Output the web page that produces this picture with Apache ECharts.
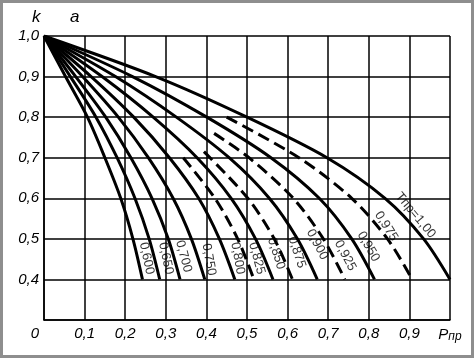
<!DOCTYPE html>
<html><head><meta charset="utf-8">
<script src="https://cdn.jsdelivr.net/npm/echarts@6/dist/echarts.min.js"></script>
<style>
html,body{margin:0;padding:0;background:#fff;}
#c{width:474px;height:358px;position:absolute;left:0;top:0;}
#frame{position:absolute;left:0;top:0;width:474px;height:358px;box-sizing:border-box;border:3px solid #8e8e8e;pointer-events:none;}
</style></head>
<body>
<div id="c"></div><div id="frame"></div>
<script>
// k levels where each solid curve is sampled
const kLevels = [1.0, 0.9, 0.8, 0.7, 0.6, 0.5, 0.4];
// P values (Pпр) of each solid curve at those k levels
const p600 = [0, 0.053, 0.107, 0.150, 0.189, 0.219, 0.2425];
const p650 = [0, 0.065, 0.128, 0.180, 0.224, 0.259, 0.285];
const p700 = [0, 0.078, 0.152, 0.214, 0.266, 0.306, 0.335];
const p750 = [0, 0.095, 0.183, 0.257, 0.318, 0.363, 0.396];
const p800 = [0, 0.116, 0.221, 0.309, 0.381, 0.432, 0.470];
const p850 = [0, 0.143, 0.269, 0.377, 0.461, 0.521, 0.564];
const p900 = [0, 0.176, 0.326, 0.456, 0.555, 0.624, 0.673];
const p950 = [0, 0.218, 0.401, 0.559, 0.678, 0.758, 0.814];
const p1000 = [0, 0.275, 0.500, 0.697, 0.840, 0.935, 1.000];
// dashed curves (start lower)
const k825 = [0.70, 0.6, 0.5, 0.4];
const p825 = [0.343, 0.421, 0.477, 0.517];
const k875 = [0.715, 0.6, 0.5, 0.4];
const p875 = [0.394, 0.502, 0.567, 0.612];
const k925 = [0.76, 0.7, 0.6, 0.5, 0.4];
const p925 = [0.419, 0.505, 0.614, 0.688, 0.741];
const k975 = [0.80, 0.7, 0.6, 0.5, 0.4];
const p975 = [0.450, 0.628, 0.758, 0.846, 0.907];
// curve labels
const labelText = ['0,600','0,650','0,700','0,750','0,800','0,825','0,850','0,875','0,900','0,925','0,950','0,975','Tпр=1,00'];
const labelP = [0.253,0.300,0.344,0.406,0.477,0.524,0.572,0.623,0.673,0.742,0.799,0.843,0.915];
const labelK = [0.452,0.452,0.457,0.449,0.452,0.452,0.464,0.467,0.486,0.459,0.481,0.531,0.558];
const labelRot = [-78,-78,-75,-80,-80,-75,-72,-72,-62,-62,-60,-58,-50];

const solid = [p600,p650,p700,p750,p800,p850,p900,p950,p1000];
const dashed = [[p825,k825],[p875,k875],[p925,k925],[p975,k975]];

const series = [];
solid.forEach(ps => {
  series.push({type:'line', data: ps.map((p,i)=>[p,kLevels[i]]), showSymbol:false, smooth:0.3,
    lineStyle:{color:'#000', width:3}, z:3, silent:true});
});
dashed.forEach(([ps,ks]) => {
  series.push({type:'line', data: ps.map((p,i)=>[p,ks[i]]), showSymbol:false, smooth:0.3,
    lineStyle:{color:'#000', width:3, type:[12,6]}, z:3, silent:true});
});
series.push({type:'scatter', symbolSize:0, silent:true, z:5,
  data: labelText.map((t,i)=>({value:[labelP[i],labelK[i]], name:t,
    label:{show:true, position:'inside', formatter:t, rotate:labelRot[i], color:'#000',
      fontFamily:'Liberation Sans, Arial, sans-serif', fontSize:13}}))
});

const FF = 'Liberation Sans, Arial, sans-serif';
const fmt = v => (Math.round(v*10)/10).toFixed(1).replace('.',',');
const chart = echarts.init(document.getElementById('c'), null, {renderer:'canvas'});
chart.setOption({
  animation:false,
  backgroundColor:'#fff',
  grid:{left:44, top:36, right:24, bottom:38, show:false},
  xAxis:{type:'value', min:0, max:1, interval:0.1,
    axisLine:{show:true, onZero:false, lineStyle:{color:'#000', width:1.5}},
    axisTick:{show:false},
    splitLine:{show:true, lineStyle:{color:'#000', width:1.5}},
    axisLabel:{margin:6, color:'#000', fontStyle:'italic', fontSize:15, fontFamily:FF,
      formatter: v => {
        if (v < 0.05) return '{z|0}';
        if (v > 0.95) return '{p|P}{s|пр}';
        return fmt(v);
      },
      rich:{z:{fontStyle:'italic', fontSize:15, padding:[0,18,0,0], color:'#000', fontFamily:FF},
            p:{fontStyle:'italic', fontSize:15, color:'#000', fontFamily:FF},
            s:{fontStyle:'italic', fontSize:12, color:'#000', fontFamily:FF, padding:[5,0,0,0]}}
    }},
  yAxis:{type:'value', min:0.3, max:1.0, interval:0.1,
    axisLine:{show:true, onZero:false, lineStyle:{color:'#000', width:1.5}},
    axisTick:{show:false},
    splitLine:{show:true, lineStyle:{color:'#000', width:1.5}},
    axisLabel:{margin:5, color:'#000', fontStyle:'italic', fontSize:15, fontFamily:FF,
      formatter: v => (v < 0.35 ? '' : fmt(v))}},
  graphic:[
    {type:'text', left:32, top:9, style:{text:'k', font:'italic 17px "Liberation Sans", Arial, sans-serif', fill:'#000'}},
    {type:'text', left:70, top:9, style:{text:'a', font:'italic 17px "Liberation Sans", Arial, sans-serif', fill:'#000'}}
  ],
  series: series
});
</script>
</body></html>
